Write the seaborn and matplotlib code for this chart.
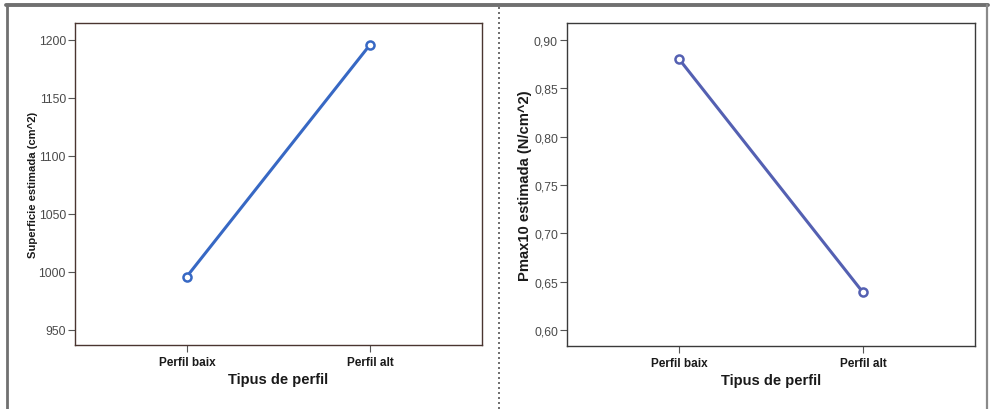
import matplotlib
matplotlib.use("Agg")
import matplotlib.pyplot as plt
from matplotlib.lines import Line2D
from matplotlib.ticker import FuncFormatter
import seaborn as sns
import pandas as pd

# Dades (llegides del gràfic)
perfils = ["Perfil baix", "Perfil alt"]
superficie = [996, 1196]
pmax10 = [0.880, 0.639]

sup_ticks = [950, 1000, 1050, 1100, 1150, 1200]
pmax_ticks = [0.60, 0.65, 0.70, 0.75, 0.80, 0.85, 0.90]

sns.set_style("white")
plt.rcParams['font.family'] = ['Liberation Sans', 'DejaVu Sans']

fig = plt.figure(figsize=(9.9, 4.1), dpi=100)
W, H = 990, 410


def px_axes(x0, y0, x1, y1):
    return fig.add_axes([x0 / W, 1 - y1 / H, (x1 - x0) / W, (y1 - y0) / H])


ax1 = px_axes(75, 24, 482, 346)
ax2 = px_axes(567, 24, 975, 347)

df1 = pd.DataFrame({"perfil": perfils, "valor": superficie})
df2 = pd.DataFrame({"perfil": perfils, "valor": pmax10})

sns.lineplot(data=df1, x="perfil", y="valor", ax=ax1, sort=False,
             color="#3768c4", linewidth=2.2, marker="o", markersize=5.8,
             markerfacecolor="white", markeredgecolor="#3768c4",
             markeredgewidth=1.8)
sns.lineplot(data=df2, x="perfil", y="valor", ax=ax2, sort=False,
             color="#5460b2", linewidth=2.2, marker="o", markersize=5.8,
             markerfacecolor="white", markeredgecolor="#5460b2",
             markeredgewidth=1.8)

ax1.set_ylim(937, 1214.6)
ax1.set_yticks(sup_ticks)
ax2.set_ylim(0.5835, 0.9173)
ax2.set_yticks(pmax_ticks)
ax2.yaxis.set_major_formatter(FuncFormatter(lambda v, p: f"{v:.2f}".replace(".", ",")))

for ax in (ax1, ax2):
    ax.set_xlim(-0.61, 1.61)
    ax.set_xticks([0, 1])
    ax.set_xticklabels(perfils, fontsize=8.5, fontweight="bold", color="#1a1a1a")
    ax.tick_params(axis="y", direction="out", length=5, width=0.8,
                   color="#555555", labelsize=8.7, labelcolor="#4a4a4a", pad=1.5, left=True)
    ax.tick_params(axis="x", direction="out", length=5, width=0.8,
                   color="#555555", pad=3, bottom=True)
    for s in ax.spines.values():
        s.set_color("#3a3a3a")
        s.set_linewidth(1.0)
    ax.set_xlabel("Tipus de perfil", fontsize=10.5, fontweight="bold", color="#1a1a1a")
    ax.xaxis.set_label_coords(0.5, -0.085)
    ax.xaxis.label.set_va("top")

for s in ax1.spines.values():
    s.set_color("#4a3530")

ax1.set_ylabel("Superficie estimada (cm^2)", fontsize=8.1, fontweight="bold", color="#1a1a1a")
ax1.yaxis.set_label_coords(-0.092, 0.5)
ax2.set_ylabel("Pmax10 estimada (N/cm^2)", fontsize=10.6, fontweight="bold", color="#1a1a1a")
ax2.yaxis.set_label_coords(-0.086, 0.5)

# Marc exterior i separador
fig.add_artist(Line2D([6 / W, 988 / W], [1 - 6 / H, 1 - 6 / H], color="#707070", linewidth=2.8))
fig.add_artist(Line2D([7 / W, 7 / W], [0, 1 - 6 / H], color="#707070", linewidth=2.0))
fig.add_artist(Line2D([986.5 / W, 986.5 / W], [0, 1 - 6 / H], color="#8a8a8a", linewidth=1.6))
fig.add_artist(Line2D([499 / W, 499 / W], [0, 1 - 6 / H], color="#555555", linewidth=1.2,
                      linestyle=(0, (1.2, 1.8))))

fig.savefig("out.png", dpi=100)
